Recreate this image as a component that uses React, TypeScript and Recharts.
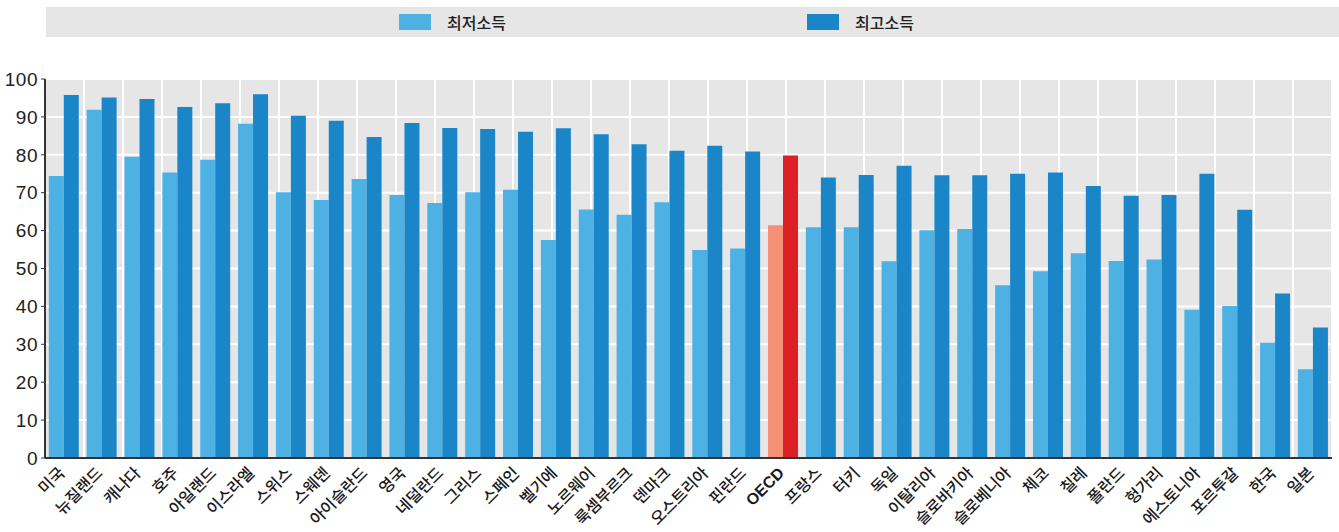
import React from "react";
import { BarChart, Bar, XAxis, YAxis, CartesianGrid, Legend, Cell } from "recharts";

const countries = [
    "미국", "뉴질랜드", "캐나다", "호주", "아일랜드", "이스라엘", "스위스", "스웨덴",
    "아이슬란드", "영국", "네덜란드", "그리스", "스페인", "벨기에", "노르웨이", "룩셈부르크",
    "덴마크", "오스트리아", "핀란드", "OECD", "프랑스", "터키", "독일", "이탈리아",
    "슬로바키아", "슬로베니아", "체코", "칠레", "폴란드", "헝가리", "에스토니아", "포르투갈",
    "한국", "일본"
];

// 최저소득
const lowIncome = [
    74.4, 91.9, 79.5, 75.3, 78.7, 88.2, 70.1, 68.1, 73.6, 69.4, 67.3, 70.1, 70.8, 57.5, 65.6, 64.2,
    67.5, 54.9, 55.3, 61.4, 60.9, 60.9, 51.9, 60.1, 60.4, 45.6, 49.3, 54.0, 52.0, 52.4, 39.1, 40.1,
    30.4, 23.4
];

// 최고소득
const highIncome = [
    95.8, 95.1, 94.7, 92.6, 93.6, 96.0, 90.3, 89.0, 84.7, 88.4, 87.1, 86.8, 86.1, 87.0, 85.4, 82.8,
    81.1, 82.4, 80.9, 79.8, 74.0, 74.7, 77.1, 74.6, 74.6, 75.0, 75.3, 71.8, 69.2, 69.4, 75.0, 65.5,
    43.4, 34.4
];

const yTicks = [0, 10, 20, 30, 40, 50, 60, 70, 80, 90, 100];
const seriesOrder = ["low", "high"];

const LIGHT = "#4eb1e3";
const DARK = "#1a86c8";
const OECD_LIGHT = "#f39075";
const OECD_DARK = "#dd1f27";

const data = countries.map((name, i) => ({ name, low: lowIncome[i], high: highIncome[i] }));
// category boundaries for the white vertical grid and the small inner ticks
const boundaries = countries.map((_, i) => i).concat(countries.length);

const CountryTick = ({ x, y, payload }: any) => (
    <g transform={`translate(${x + 2},${y + 16})`}>
        <text
            transform="rotate(-45)"
            textAnchor="end"
            fontSize={payload.value === "OECD" ? 16 : 16}
            fontWeight={payload.value === "OECD" ? 700 : 500}
            fill="#1a1a1a"
            fontFamily={payload.value === "OECD" ? '"Liberation Sans", Arial, sans-serif' : '"Noto Sans CJK KR", sans-serif'}
        >
            {payload.value}
        </text>
    </g>
);

const LegendBand = ({ payload }: any) => {
    const items = seriesOrder
        .map((key) => (payload || []).find((p: any) => p.dataKey === key))
        .filter(Boolean);
    return (
        <div style={{ position: "relative", height: 30, background: "#e6e6e6", width: "100%" }}>
            {items.map((p: any, i: number) => (
                <div
                    key={p.value}
                    style={{ position: "absolute", left: i === 0 ? 353 : 761, top: 0, height: 30, display: "flex", alignItems: "center" }}
                >
                    <span style={{ display: "inline-block", width: 32, height: 16, background: p.color }} />
                    <span style={{ marginLeft: 16, fontSize: 16, fontWeight: 500, color: "#222", fontFamily: '"Noto Sans CJK KR", sans-serif' }}>
                        {p.value}
                    </span>
                </div>
            ))}
        </div>
    );
};

export default function App() {
    return (
        <div style={{ position: "absolute", left: 0, top: 0, width: 1339, height: 532, background: "#fff" }}>
            <BarChart
                width={1339}
                height={532}
                data={data}
                margin={{ top: 49, right: 7, left: 0, bottom: 0 }}
                barCategoryGap="10%"
                barGap={0}
            >
                <CartesianGrid xAxisId="grid" fill="#e6e6e6" stroke="#ffffff" strokeWidth={2} />
                <XAxis
                    xAxisId="grid"
                    type="number"
                    domain={[0, countries.length]}
                    ticks={boundaries}
                    allowDataOverflow
                    mirror
                    height={0}
                    tick={() => <g />}
                    tickSize={5}
                    tickLine={{ stroke: "#444", strokeWidth: 1 }}
                    axisLine={{ stroke: "#333", strokeWidth: 2 }}
                />
                <XAxis
                    dataKey="name"
                    interval={0}
                    height={74}
                    tickLine={false}
                    tickSize={0}
                    tickMargin={0}
                    axisLine={{ stroke: "#333", strokeWidth: 2 }}
                    tick={<CountryTick />}
                />
                <YAxis
                    domain={[0, 100]}
                    ticks={yTicks}
                    width={45}
                    tickSize={4}
                    tickMargin={3}
                    tickLine={{ stroke: "#333" }}
                    axisLine={{ stroke: "#333", strokeWidth: 2 }}
                    tick={{ fontSize: 19, fill: "#222", letterSpacing: 0.5, fontFamily: '"Liberation Sans", Arial, sans-serif' }}
                />
                <Legend
                    verticalAlign="top"
                    content={<LegendBand />}
                    wrapperStyle={{ top: 7, left: 46, width: 1293 }}
                />
                <Bar dataKey="low" name="최저소득" fill={LIGHT} isAnimationActive={false}>
                    {data.map((d) => (
                        <Cell key={d.name} fill={d.name === "OECD" ? OECD_LIGHT : LIGHT} />
                    ))}
                </Bar>
                <Bar dataKey="high" name="최고소득" fill={DARK} isAnimationActive={false}>
                    {data.map((d) => (
                        <Cell key={d.name} fill={d.name === "OECD" ? OECD_DARK : DARK} />
                    ))}
                </Bar>
            </BarChart>
        </div>
    );
}
